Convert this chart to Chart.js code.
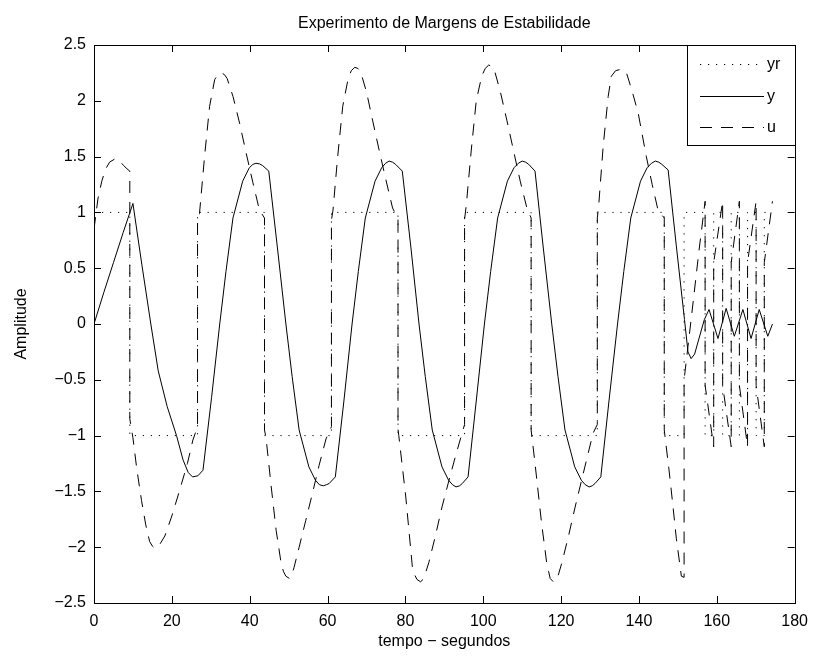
<!DOCTYPE html>
<html>
<head>
<meta charset="utf-8">
<title>Experimento de Margens de Estabilidade</title>
<script src="https://cdn.jsdelivr.net/npm/chart.js@4.4.1/dist/chart.umd.min.js"></script>
<style>
  html, body { margin: 0; padding: 0; background: #fff; }
</style>
</head>
<body>
<canvas id="marginsChart" width="817" height="659"></canvas>
<script>
// relay reference (yr)
const yrTime = [0, 9.2, 9.2, 26.6, 26.6, 43.8, 43.8, 61, 61, 78.1, 78.1, 95.2, 95.2, 112.3, 112.3, 129.3, 129.3, 146.5, 146.5, 151.6,
  151.6, 157, 157, 159.2, 159.2, 161.5, 161.5, 163.7, 163.7, 165.8, 165.8, 167.9, 167.9, 170.1, 170.1, 172.2, 172.2, 174.3];
const yrValue = [1, 1, -1, -1, 1, 1, -1, -1, 1, 1, -1, -1, 1, 1, -1, -1, 1, 1, -1, -1,
  1, 1, -1, -1, 1, 1, -1, -1, 1, 1, -1, -1, 1, 1, -1, -1, 1, 1];

// plant output (y)
const yTime = [0, 2.5, 5, 7.5, 10,
  12.3, 14.6, 16.5, 18.8, 21.2, 22.9, 24.2, 25.3, 26.7, 28,
  30.2, 32.3, 33.9, 35.7, 38.2, 39.9, 40.8, 41.6, 42.5, 43.3, 44.9,
  47.1, 49.3, 50.9, 52.7, 55.2, 56.9, 57.9, 58.9, 59.7, 60.4, 62,
  64.2, 66.3, 67.9, 69.7, 72.2, 73.9, 74.9, 75.8, 76.7, 77.5, 79.2,
  81.4, 83.5, 85.1, 86.9, 89.4, 91.1, 92.1, 93, 93.9, 94.6, 96.1,
  98.2, 100.3, 101.9, 103.7, 106.2, 107.9, 109, 110, 110.9, 111.7, 113.3,
  115.4, 117.6, 119.2, 121, 123.5, 125.2, 126.2, 127.2, 128, 128.7, 130.2,
  132.3, 134.5, 136.1, 137.9, 140.4, 142.1, 143.2, 144.2, 145.1, 145.9, 147.5,
  149.6, 151.7, 152.6, 153.4, 154.3, 155.1, 156.8, 158, 160.3, 162.4, 164.5, 166.7, 168.8, 170.9, 173.1, 174.3];
const yValue = [0, 0.28, 0.55, 0.82, 1.08,
  0.53, 0, -0.42, -0.74, -1.0, -1.22, -1.33, -1.37, -1.36, -1.31,
  -0.66, 0, 0.47, 0.95, 1.28, 1.4, 1.43, 1.44, 1.435, 1.42, 1.37,
  0.69, 0, -0.47, -0.95, -1.28, -1.4, -1.44, -1.45, -1.44, -1.43, -1.37,
  -0.69, 0, 0.47, 0.95, 1.28, 1.4, 1.44, 1.46, 1.45, 1.43, 1.37,
  0.69, 0, -0.47, -0.95, -1.28, -1.4, -1.44, -1.46, -1.45, -1.43, -1.37,
  -0.69, 0, 0.47, 0.95, 1.28, 1.4, 1.44, 1.46, 1.45, 1.43, 1.37,
  0.69, 0, -0.47, -0.95, -1.28, -1.4, -1.44, -1.46, -1.45, -1.43, -1.37,
  -0.69, 0, 0.47, 0.95, 1.28, 1.4, 1.44, 1.46, 1.45, 1.43, 1.38,
  0.7, 0.04, -0.25, -0.31, -0.27, -0.17, 0.04, 0.13, -0.13, 0.14, -0.11, 0.13, -0.13, 0.13, -0.11, 0];

// control signal (u)
const uTime = [0, 1, 2, 3, 4, 5.4, 6.6, 7.6, 8.5, 9.2,
  9.2, 10, 11, 12.2, 13.3, 14.3, 15, 15.6, 16.2, 16.8, 18.2, 20, 22, 24, 25.4, 26.6,
  26.6, 27.1, 28.4, 29.7, 31, 31.8, 32.7, 33.5, 34.2, 35.7, 37.4, 39.1, 40.8, 42.5, 43.8,
  43.8, 44.2, 45.5, 46.8, 48.1, 48.7, 49.3, 50.2, 50.8, 51.4, 52.7, 54.4, 56.1, 57.8, 59.6, 61,
  61, 61.4, 62.6, 63.9, 65.3, 66.1, 67, 67.8, 68.5, 70, 71.6, 73.3, 75, 76.7, 78.1,
  78.1, 78.3, 80.1, 81.8, 82.4, 83, 83.9, 84.5, 85, 86, 87.7, 89.4, 91.2, 92.9, 95.2,
  95.2, 95.6, 96.9, 98.2, 99.6, 100.5, 101.4, 102.2, 102.9, 104.4, 106.1, 107.8, 109.5, 111.2, 112.3,
  112.3, 113.3, 115, 116.3, 116.8, 117.2, 118, 118.6, 119.1, 120.2, 121.9, 123.6, 126.1, 128.2, 129.3,
  129.3, 129.7, 130.8, 132.1, 132.9, 134, 135.1, 136, 136.8, 138.3, 139.8, 141.9, 143.4, 144.9, 146.5,
  146.5, 146.6, 147.7, 148.7, 149.6, 150.9, 151.6,
  151.6, 152.6, 154, 155.4, 157,
  157, 159.2, 159.2, 161.5, 161.5, 163.7, 163.7, 165.8, 165.8, 167.9, 167.9, 170.1, 170.1, 172.2, 172.2, 174.3];
const uValue = [0.85, 1.12, 1.28, 1.39, 1.45, 1.48, 1.46, 1.42, 1.39, 1.37,
  -0.85, -1.02, -1.3, -1.58, -1.8, -1.95, -1.99, -2.01, -2.0, -1.98, -1.9, -1.72, -1.49, -1.25, -1.04, -0.92,
  0.93, 0.99, 1.5, 1.95, 2.19, 2.235, 2.25, 2.235, 2.2, 2.04, 1.8, 1.53, 1.27, 1.02, 0.95,
  -0.95, -1.02, -1.45, -1.85, -2.15, -2.22, -2.26, -2.28, -2.25, -2.18, -2.0, -1.76, -1.52, -1.27, -1.03, -0.92,
  0.93, 1.02, 1.5, 1.95, 2.2, 2.27, 2.3, 2.29, 2.26, 2.08, 1.82, 1.55, 1.29, 1.04, 0.94,
  -0.94, -1.0, -1.55, -2.18, -2.25, -2.29, -2.31, -2.29, -2.25, -2.14, -1.9, -1.64, -1.4, -1.18, -0.9,
  0.94, 1.05, 1.55, 2.0, 2.22, 2.29, 2.32, 2.31, 2.27, 2.08, 1.82, 1.55, 1.28, 1.04, 0.95,
  -0.95, -1.25, -1.79, -2.14, -2.22, -2.28, -2.31, -2.3, -2.27, -2.14, -1.9, -1.64, -1.28, -0.98, -0.9,
  0.95, 1.08, 1.59, 2.04, 2.22, 2.27, 2.28, 2.275, 2.25, 2.08, 1.89, 1.5, 1.25, 1.02, 0.95,
  -0.95, -0.98, -1.3, -1.62, -1.92, -2.26, -2.27,
  -0.5, -0.2, 0.22, 0.65, 1.1,
  -0.55, -1.1, 0.55, 1.1, -0.55, -1.1, 0.55, 1.1, -0.55, -1.1, 0.55, 1.1, -0.55, -1.1, 0.55, 1.1];

const seriesNames = ['yr', 'y', 'u'];
const chartTitle = 'Experimento de Margens de Estabilidade';

const FONT = "'Liberation Sans', Arial, Helvetica, sans-serif";
const DOTTED = [1.2, 6.8];
const DASHED = [12, 9];

function toPoints(xs, ys) {
    return xs.map((x, i) => ({ x: x, y: ys[i] }));
}

// title, black box, inward ticks on all four sides and a MATLAB-style legend
const matlabAxes = {
    id: 'matlabAxes',
    afterDraw(chart) {
        const ctx = chart.ctx;
        const a = chart.chartArea;
        const xs = chart.scales.x;
        const ys = chart.scales.y;
        const tick = 7;
        ctx.save();

        ctx.fillStyle = '#000';
        ctx.font = '16px ' + FONT;
        ctx.textAlign = 'center';
        ctx.textBaseline = 'middle';
        ctx.fillText(chartTitle, (a.left + a.right) / 2, 24);

        ctx.strokeStyle = '#000';
        ctx.lineWidth = 1;
        ctx.setLineDash([]);
        ctx.beginPath();
        xs.ticks.forEach(t => {
            const px = Math.round(xs.getPixelForValue(t.value)) + 0.5;
            ctx.moveTo(px, a.bottom); ctx.lineTo(px, a.bottom - tick);
            ctx.moveTo(px, a.top); ctx.lineTo(px, a.top + tick);
        });
        ys.ticks.forEach(t => {
            const py = Math.round(ys.getPixelForValue(t.value)) + 0.5;
            ctx.moveTo(a.left, py); ctx.lineTo(a.left + tick, py);
            ctx.moveTo(a.right, py); ctx.lineTo(a.right - tick, py);
        });
        ctx.stroke();
        ctx.strokeRect(Math.round(a.left) + 0.5, Math.round(a.top) + 0.5,
            Math.round(a.right - a.left), Math.round(a.bottom - a.top));

        // legend
        const boxL = 687, boxT = Math.round(a.top), boxR = Math.round(a.right), boxB = 145;
        ctx.fillStyle = '#fff';
        ctx.fillRect(boxL, boxT, boxR - boxL, boxB - boxT);
        ctx.strokeRect(boxL + 0.5, boxT + 0.5, boxR - boxL, boxB - boxT);
        const rows = [64.5, 96.5, 127.5];
        const dashes = [DOTTED, [], DASHED];
        ctx.textAlign = 'left';
        rows.forEach((ry, i) => {
            ctx.setLineDash(dashes[i]);
            ctx.beginPath();
            ctx.moveTo(700, ry);
            ctx.lineTo(764, ry);
            ctx.stroke();
            ctx.fillStyle = '#000';
            ctx.fillText(seriesNames[i], 767, ry);
        });
        ctx.restore();
    }
};

Chart.defaults.color = '#000';
Chart.defaults.font.family = FONT;

const marginsCtx = document.getElementById('marginsChart').getContext('2d');
const marginsChart = new Chart(marginsCtx, {
    type: 'line',
    data: {
        datasets: [
            { label: seriesNames[0], data: toPoints(yrTime, yrValue), borderColor: '#000', borderWidth: 1, borderDash: DOTTED, pointRadius: 0, tension: 0, fill: false },
            { label: seriesNames[1], data: toPoints(yTime, yValue), borderColor: '#000', borderWidth: 1, pointRadius: 0, tension: 0, fill: false },
            { label: seriesNames[2], data: toPoints(uTime, uValue), borderColor: '#000', borderWidth: 1, borderDash: DASHED, pointRadius: 0, tension: 0, fill: false }
        ]
    },
    options: {
        responsive: false,
        animation: false,
        devicePixelRatio: 1,
        layout: { padding: { left: 0, right: 20, top: 45, bottom: 0 } },
        plugins: {
            legend: { display: false },
            tooltip: { enabled: false },
            title: { display: false }
        },
        scales: {
            x: {
                type: 'linear',
                min: 0,
                max: 180,
                grid: { display: false, drawTicks: false },
                border: { display: false },
                ticks: { stepSize: 20, padding: 9, autoSkip: false, maxRotation: 0, font: { size: 16 } },
                title: { display: true, text: 'tempo − segundos', font: { size: 16 }, padding: { top: 0, bottom: 8 } },
                afterFit: scale => { scale.height = 56; }
            },
            y: {
                min: -2.5,
                max: 2.5,
                grid: { display: false, drawTicks: false },
                border: { display: false },
                ticks: {
                    stepSize: 0.5,
                    padding: 8,
                    autoSkip: false,
                    font: { size: 16 },
                    callback: v => String(v).replace('-', '−')
                },
                title: { display: true, text: 'Amplitude', font: { size: 16 }, padding: { top: 12, bottom: 0 } },
                afterFit: scale => { scale.width = 94; }
            }
        }
    },
    plugins: [matlabAxes]
});
</script>
</body>
</html>
